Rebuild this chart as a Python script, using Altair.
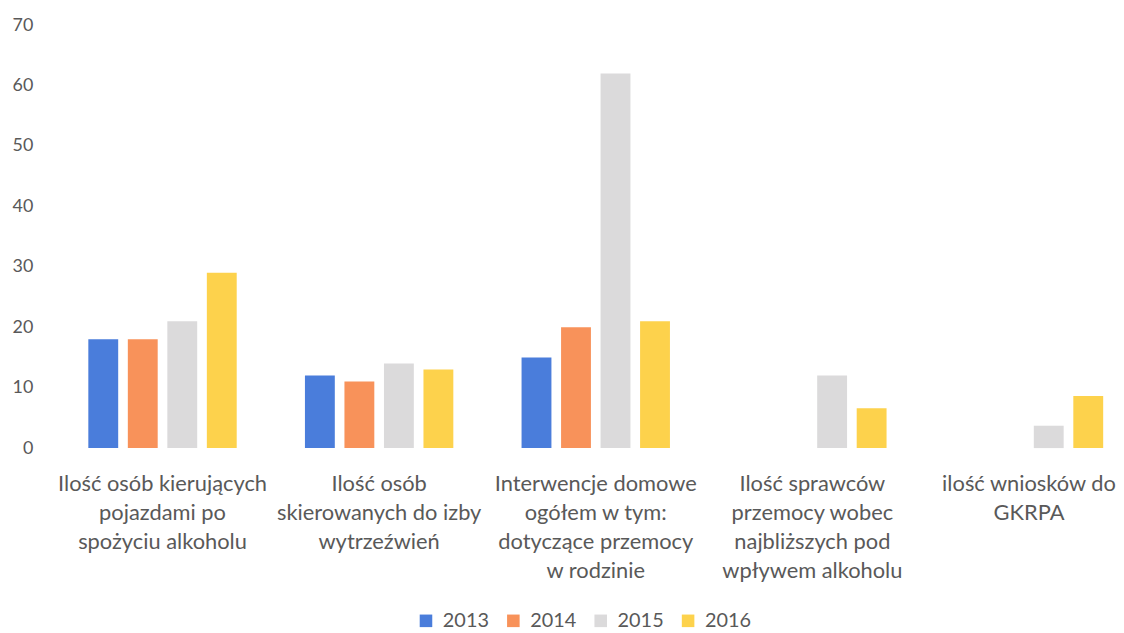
import altair as alt
import pandas as pd

categories = [
    "Ilość osób kierujących\npojazdami po\nspożyciu  alkoholu",
    "Ilość osób\nskierowanych do izby\nwytrzeźwień",
    "Interwencje domowe\nogółem  w tym:\ndotyczące przemocy\nw rodzinie",
    "Ilość sprawców\nprzemocy wobec\nnajbliższych pod\nwpływem alkoholu",
    "ilość wniosków do\nGKRPA",
]
years = ["2013", "2014", "2015", "2016"]
v2013 = [18, 12, 15, None, None]
v2014 = [18, 11, 20, None, None]
v2015 = [21, 14, 62, 12, 3.7]
v2016 = [29, 13, 21, 6.6, 8.6]
colors = ["#4a7ddb", "#f8925a", "#dbdadb", "#fdd24c"]
y_ticks = [0, 10, 20, 30, 40, 50, 60, 70]

rows = []
for yr, vals in zip(years, [v2013, v2014, v2015, v2016]):
    for c, v in zip(categories, vals):
        rows.append({"cat": c, "year": yr, "value": v})
df = pd.DataFrame(rows)

FONT = "Lato"
TXT = "#595959"

chart = alt.Chart(df).mark_bar().encode(
    x=alt.X(
        "cat:N",
        sort=categories,
        scale=alt.Scale(paddingInner=0.315, paddingOuter=0.105, align=0.74),
        axis=alt.Axis(
            title=None,
            labelAngle=0,
            labelExpr="split(datum.label, '\\n')",
            labelFontSize=22,
            labelFont=FONT,
            labelColor=TXT,
            labelPadding=26,
            labelLineHeight=29,
            labelBaseline="top",
            labelLimit=400,
            domain=False,
            ticks=False,
        ),
    ),
    xOffset=alt.XOffset("year:N", sort=years, scale=alt.Scale(paddingInner=0.244)),
    y=alt.Y(
        "value:Q",
        scale=alt.Scale(domain=[0, 70]),
        axis=alt.Axis(
            title=None,
            values=y_ticks,
            grid=False,
            domain=False,
            ticks=False,
            labelPadding=22,
            labelFontSize=18,
            labelFont=FONT,
            labelColor=TXT,
        ),
    ),
    color=alt.Color(
        "year:N",
        sort=years,
        scale=alt.Scale(domain=years, range=colors),
        legend=alt.Legend(
            orient="none",
            direction="horizontal",
            legendX=364,
            legendY=590,
            title=None,
            padding=0,
            symbolType="square",
            symbolSize=160,
            symbolStrokeWidth=0,
            labelFontSize=20,
            labelFont=FONT,
            labelColor=TXT,
            labelOffset=7,
            columnPadding=14,
        ),
    ),
).properties(
    width=1068,
    height=426,
    padding={"left": 4, "top": 6, "right": 0, "bottom": 0},
).configure_view(stroke=None)

chart.save("out.html", embed_options={"renderer": "svg", "actions": False})
